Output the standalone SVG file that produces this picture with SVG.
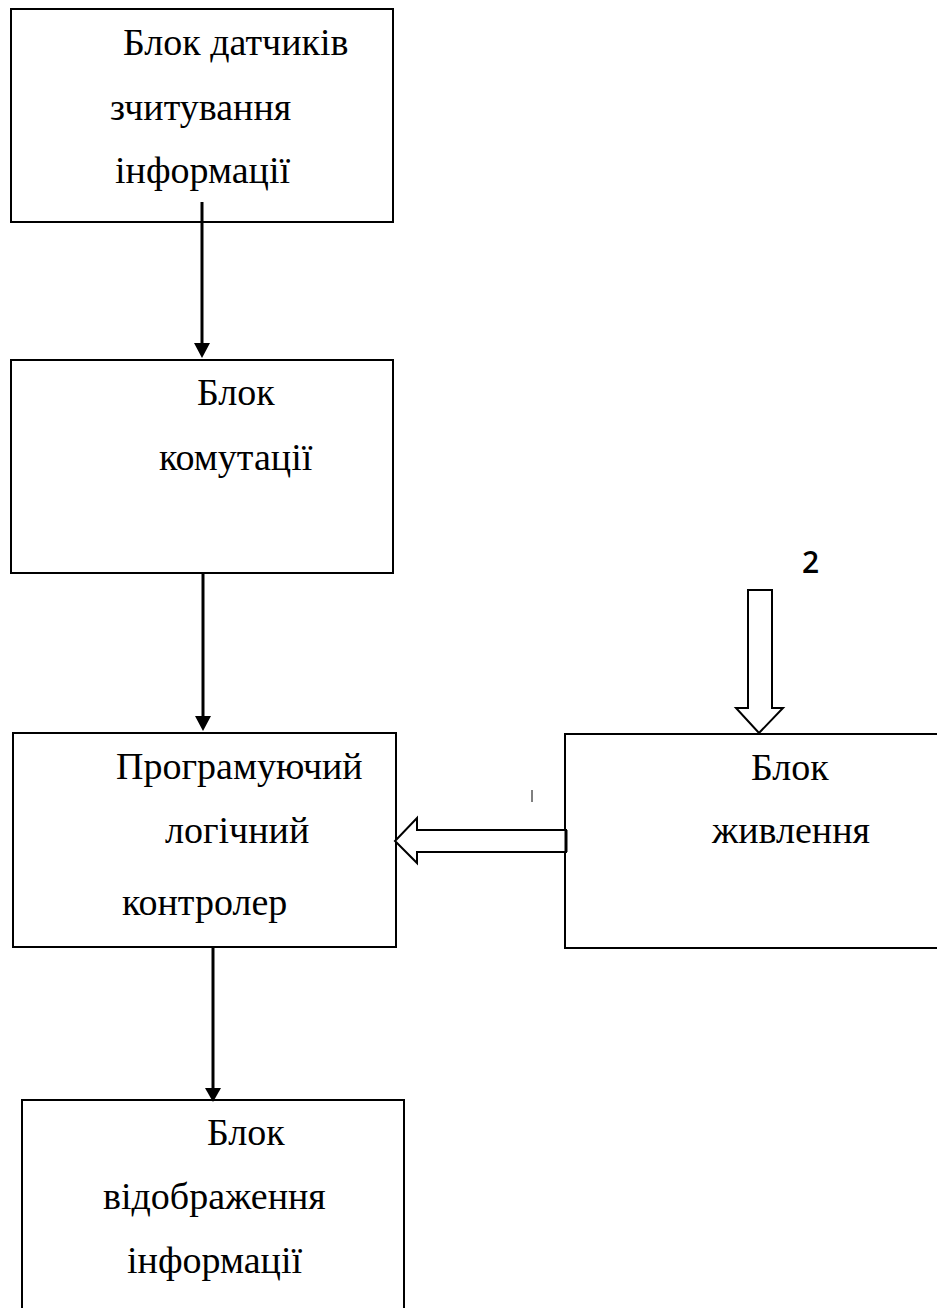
<svg xmlns="http://www.w3.org/2000/svg" width="937" height="1308" viewBox="0 0 937 1308">
<defs>
<style>
.box{fill:#fff;stroke:#000;stroke-width:2}
.ln{stroke:#000;stroke-width:3;fill:none}
.hollow{fill:#fff;stroke:#000;stroke-width:2;stroke-linejoin:miter}
.t{font-family:"Liberation Serif","Times New Roman",serif;font-size:38px;fill:#000}
</style>
</defs>
<rect width="937" height="1308" fill="#fff"/>
<g id="n1">
<rect class="box" x="11" y="9" width="382" height="213"/>
<text class="t" x="123" y="55">Блок датчиків</text>
<text class="t" x="110" y="120">зчитування</text>
<text class="t" x="115" y="183">інформації</text>
</g>
<g id="n2">
<rect class="box" x="11" y="360" width="382" height="213"/>
<text class="t" x="197" y="405">Блок</text>
<text class="t" x="159" y="470">комутації</text>
</g>
<g id="n3">
<rect class="box" x="13" y="733" width="383" height="214"/>
<text class="t" x="116" y="779">Програмуючий</text>
<text class="t" x="165" y="843">логічний</text>
<text class="t" x="122" y="915">контролер</text>
</g>
<g id="n4">
<rect class="box" x="565" y="734" width="380" height="214"/>
<text class="t" x="751" y="780">Блок</text>
<text class="t" x="712" y="843">живлення</text>
</g>
<g id="n5">
<rect class="box" x="22" y="1100" width="382" height="220"/>
<text class="t" x="207" y="1145">Блок</text>
<text class="t" x="103" y="1209">відображення</text>
<text class="t" x="127" y="1273">інформації</text>
</g>
<g id="connectors">
<line class="ln" x1="202" y1="202" x2="202" y2="343"/>
<path d="M194,343 L210,343 L202,358 Z" fill="#000"/>
<line class="ln" x1="203" y1="573" x2="203" y2="716"/>
<path d="M195,716 L211,716 L203,731 Z" fill="#000"/>
<line class="ln" x1="213" y1="947" x2="213" y2="1088"/>
<path d="M205,1088 L221,1088 L213,1102 Z" fill="#000"/>
<path class="hollow" d="M748,590 L772,590 L772,708 L783,708 L759,733 L736,708 L748,708 Z"/>
<path class="hollow" d="M566,830 L417,830 L417,818 L395,841 L417,863 L417,852 L566,852 Z"/>
<line x1="566" y1="830" x2="566" y2="852" stroke="#000" stroke-width="3"/>
<line x1="532" y1="790" x2="532" y2="802" stroke="#000" stroke-width="1"/>
<text x="802" y="573" font-family="'Open Sans','Noto Sans',sans-serif" font-size="30" font-weight="600" fill="#000">2</text>
</g>
</svg>
